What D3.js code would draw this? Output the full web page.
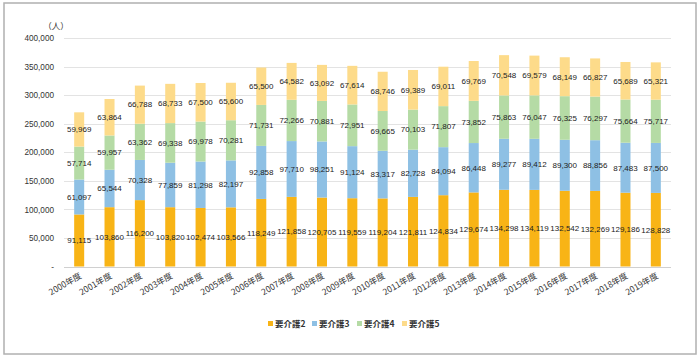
<!DOCTYPE html>
<html><head><meta charset="utf-8">
<script src="https://cdn.jsdelivr.net/npm/d3@7"></script>
<style>body{margin:0;background:#fff;}svg{display:block;}</style>
</head><body>
<script>
const years = ["2000年度","2001年度","2002年度","2003年度","2004年度","2005年度","2006年度","2007年度","2008年度","2009年度","2010年度","2011年度","2012年度","2013年度","2014年度","2015年度","2016年度","2017年度","2018年度","2019年度"];
const seriesNames = ["要介護2","要介護3","要介護4","要介護5"];
const care2 = [91115,103860,116200,103820,102474,103566,118249,121858,120705,119559,119204,121811,124834,129674,134298,134119,132542,132269,129186,128828];
const care3 = [61097,65544,70328,77859,81298,82197,92858,97710,98251,91124,83317,82728,84094,86448,89277,89412,89300,88856,87483,87500];
const care4 = [57714,59957,63362,69338,69978,70281,71731,72266,70881,72951,69665,70103,71807,73852,75863,76047,76325,76297,75664,75717];
const care5 = [59969,63864,66788,68733,67500,65600,65500,64582,63092,67614,68746,69389,69011,69769,70548,69579,68149,66827,65689,65321];
const yTicks = [0,50000,100000,150000,200000,250000,300000,350000,400000];
const colors = ["#F8B416","#8EC0E4","#B5DBA5","#FDDB8A"];

const W=700,H=359;
const svg=d3.select("body").append("svg").attr("width",W).attr("height",H);
svg.append("rect").attr("x",4).attr("y",3).attr("width",692).attr("height",351)
  .attr("fill","#fff").attr("stroke","#b0b0b0").attr("stroke-width",1.5);

const x=d3.scaleBand().domain(years).range([64,671]).paddingInner(0.67).paddingOuter(0.335);
const y=d3.scaleLinear().domain([0,400000]).range([266.5,38]);
const font="'Liberation Sans', Arial, sans-serif";

svg.append("g").selectAll("line").data(yTicks).join("line")
  .attr("x1",64).attr("x2",671).attr("y1",d=>Math.round(y(d))+0.5).attr("y2",d=>Math.round(y(d))+0.5)
  .attr("stroke",d=>d===0?"#d0d0d0":"#e3e3e3").attr("stroke-width",1);

const yAxis=d3.axisLeft(y).tickValues(yTicks).tickSize(0).tickPadding(0)
  .tickFormat(d=>d===0?"-":d3.format(",")(d));
const ya=svg.append("g").attr("transform","translate(54,0)").call(yAxis);
ya.select(".domain").remove();
ya.selectAll("text").attr("font-family",font).attr("font-size","8.2px").attr("fill","#333");

svg.append("text").attr("x",56).attr("y",29).attr("text-anchor","middle")
  .attr("font-family","'Noto Sans CJK JP', sans-serif").attr("font-size","8.5px").attr("fill","#333").text("（人）");

const table=years.map((yr,i)=>({year:yr,"要介護2":care2[i],"要介護3":care3[i],"要介護4":care4[i],"要介護5":care5[i]}));
const stacked=d3.stack().keys(seriesNames)(table);

const gs=svg.append("g").selectAll("g").data(stacked).join("g").attr("fill",(d,i)=>colors[i]);
gs.selectAll("rect").data(d=>d).join("rect")
  .attr("x",d=>x(d.data.year)).attr("width",x.bandwidth())
  .attr("y",d=>y(d[1])).attr("height",d=>y(d[0])-y(d[1]));

const lg=svg.append("g").selectAll("g").data(stacked).join("g");
lg.selectAll("text").data(d=>d.map(p=>({p,key:d.key}))).join("text")
  .attr("x",d=>x(d.p.data.year)+x.bandwidth()/2)
  .attr("y",d=>(y(d.p[0])+y(d.p[1]))/2)
  .attr("dy","0.35em").attr("text-anchor","middle")
  .attr("font-family",font).attr("font-size","8px").attr("fill","#222")
  .text(d=>d3.format(",")(d.p.data[d.key]));

const xAxis=d3.axisBottom(x).tickSize(0).tickPadding(0);
const xa=svg.append("g").attr("transform","translate(0,266.5)").call(xAxis);
xa.select(".domain").remove();
xa.selectAll("text").attr("font-family","'Noto Sans CJK JP', sans-serif").attr("font-size","8.5px").attr("fill","#333")
  .attr("text-anchor","end").attr("dy",0).attr("y",0)
  .attr("transform","translate(3,11) rotate(-30)");

const legX=[268,312,357,402];
const leg=svg.append("g").selectAll("g").data(seriesNames).join("g")
  .attr("transform",(d,i)=>`translate(${legX[i]},324)`);
leg.append("rect").attr("x",0).attr("y",-3).attr("width",5).attr("height",5).attr("fill",(d,i)=>colors[i]);
leg.append("text").attr("x",7).attr("y",0).attr("dy","0.35em")
  .attr("font-family","'Noto Sans CJK JP', sans-serif").attr("font-size","8.5px").attr("font-weight","bold").attr("fill","#333").text(d=>d);
</script>
</body></html>
